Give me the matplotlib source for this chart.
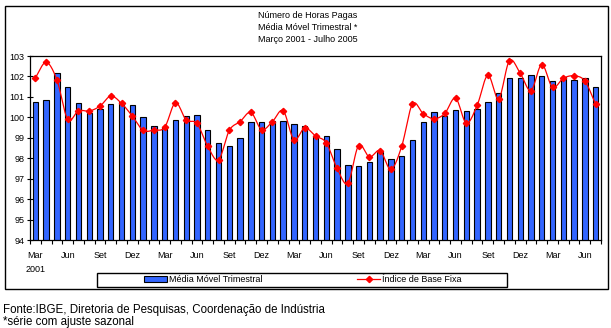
import numpy as np
import matplotlib
matplotlib.use("Agg")
import matplotlib.pyplot as plt
from matplotlib.patches import Rectangle
from matplotlib.lines import Line2D

# Mar 2001 .. Jul 2005, monthly
months = ["Mar", "Abr", "Mai", "Jun", "Jul", "Ago", "Set", "Out", "Nov", "Dez", "Jan", "Fev"]

media_movel = [
    100.74, 100.84, 102.16, 101.47, 100.69, 100.21, 100.40, 100.65, 100.74, 100.60,
    100.01, 99.57, 99.53, 99.87, 100.06, 100.11, 99.39, 98.75, 98.62, 98.99,
    99.79, 99.79, 99.80, 99.83, 99.67, 99.59, 99.08, 99.09, 98.47, 97.68,
    97.63, 97.82, 98.29, 97.98, 98.12, 98.91, 99.79, 100.27, 100.08, 100.37,
    100.32, 100.42, 100.76, 101.20, 101.93, 101.93, 102.07, 102.03, 101.78, 101.96,
    101.83, 101.93, 101.49,
]

indice_base_fixa = [
    101.94, 102.69, 101.83, 99.90, 100.32, 100.31, 100.55, 101.04, 100.68, 100.06,
    99.36, 99.38, 99.51, 100.71, 99.87, 99.70, 98.58, 97.92, 99.36, 99.79,
    100.24, 99.40, 99.79, 100.32, 98.91, 99.48, 99.09, 98.75, 97.51, 96.78,
    98.62, 98.06, 98.37, 97.46, 98.58, 100.65, 100.18, 99.93, 100.19, 100.94,
    99.72, 100.58, 102.06, 100.91, 102.77, 102.16, 101.31, 102.58, 101.47, 101.91,
    102.03, 101.78, 100.65,
]

n = len(media_movel)
labels = [months[i % 12] if i % 3 == 0 else "" for i in range(n)]
x = np.arange(n)


def smooth(xs, ys, steps=12):
    # Catmull-Rom curve through the points, like Excel's "smoothed line"
    xs = np.asarray(xs, float)
    ys = np.asarray(ys, float)
    px = np.concatenate([[2 * xs[0] - xs[1]], xs, [2 * xs[-1] - xs[-2]]])
    py = np.concatenate([[2 * ys[0] - ys[1]], ys, [2 * ys[-1] - ys[-2]]])
    t = np.linspace(0, 1, steps, endpoint=False)
    ox, oy = [], []
    for i in range(1, len(px) - 2):
        for p, out in ((px, ox), (py, oy)):
            p0, p1, p2, p3 = p[i - 1], p[i], p[i + 1], p[i + 2]
            out.extend(0.5 * (2 * p1 + (-p0 + p2) * t
                              + (2 * p0 - 5 * p1 + 4 * p2 - p3) * t ** 2
                              + (-p0 + 3 * p1 - 3 * p2 + p3) * t ** 3))
    ox.append(xs[-1])
    oy.append(ys[-1])
    return np.array(ox), np.array(oy)


plt.rcParams["font.family"] = ["Liberation Sans", "DejaVu Sans"]

fig = plt.figure(figsize=(6.11, 3.28), dpi=100)
ax = fig.add_axes([30 / 611, 1 - 240 / 328, 571 / 611, 184 / 328])

blue = "#3366FF"
red = "#FF0000"

ax.bar(x, media_movel, width=0.5, color=blue, edgecolor="black", linewidth=0.8, zorder=2)
sx, sy = smooth(x, indice_base_fixa)
ax.plot(sx, sy, color=red, linewidth=0.9, zorder=3)
ax.plot(x, indice_base_fixa, linestyle="none", marker="D", markersize=3.2,
        color=red, zorder=4)

ax.set_xlim(-0.5, n - 0.5)
ax.set_ylim(94, 103)
ax.set_yticks(np.arange(94, 104, 1))
ax.tick_params(axis="y", direction="inout", length=4, width=0.8, labelsize=6.5, pad=2)

ax.set_xticks(np.arange(n + 1) - 0.5)
ax.set_xticklabels([])
ax.tick_params(axis="x", direction="out", length=3, width=0.8)
ax.set_xticks(x, minor=True)
ax.set_xticklabels(labels, minor=True, fontsize=6.5)
ax.tick_params(axis="x", which="minor", length=0, pad=8)

for s in ax.spines.values():
    s.set_linewidth(0.9)

fig.text(35.4 / 611, 1 - 269 / 328, "2001", ha="center", va="center", fontsize=6.5)

fig.text(308 / 611, 1 - 16 / 328, "Número de Horas Pagas", ha="center", va="center", fontsize=6.5)
fig.text(308 / 611, 1 - 27.5 / 328, "Média Móvel Trimestral *", ha="center", va="center", fontsize=6.5)
fig.text(308 / 611, 1 - 39 / 328, "Março 2001 - Julho 2005", ha="center", va="center", fontsize=6.5)

# outer chart frame and legend frame
fig.patches.append(Rectangle((5 / 611, 1 - 289 / 328), 603 / 611, 283 / 328,
                             transform=fig.transFigure, fill=False,
                             edgecolor="black", linewidth=1.0))
fig.patches.append(Rectangle((97 / 611, 1 - 287 / 328), 410 / 611, 14 / 328,
                             transform=fig.transFigure, fill=False,
                             edgecolor="black", linewidth=1.0))

handles = [
    Rectangle((0, 0), 1, 1, facecolor=blue, edgecolor="black", linewidth=0.8),
    Line2D([], [], color=red, marker="D", markersize=3.2, linewidth=0.9),
]
fig.legend(handles, ["Média Móvel Trimestral", "Índice de Base Fixa"],
           loc="center", bbox_to_anchor=(303 / 611, 1 - 280 / 328), ncol=2,
           frameon=False, fontsize=6.5, handlelength=2.5, handleheight=0.6,
           handletextpad=0.25, columnspacing=10.5)

fig.text(3 / 611, 1 - 310 / 328, "Fonte:IBGE, Diretoria de Pesquisas, Coordenação de Indústria",
         ha="left", va="center", fontsize=8.3)
fig.text(3 / 611, 1 - 322 / 328, "*série com ajuste sazonal",
         ha="left", va="center", fontsize=8.3)

fig.savefig("out.png", dpi=100)
